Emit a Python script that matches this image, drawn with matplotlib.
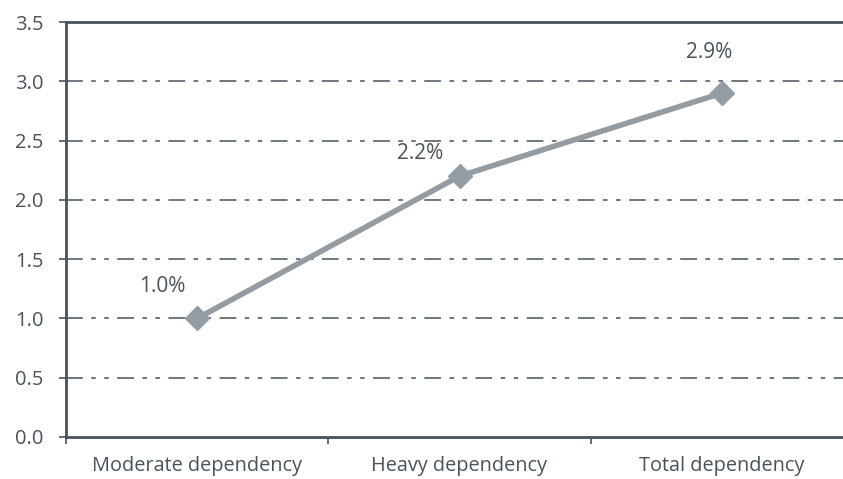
import matplotlib.pyplot as plt

plt.rcParams['font.family'] = ['Open Sans', 'DejaVu Sans']

categories = ["Moderate dependency", "Heavy dependency", "Total dependency"]
values = [1.0, 2.2, 2.9]
labels = ["1.0%", "2.2%", "2.9%"]
# label offsets from each marker, in points
label_offsets = [(-25, 23), (-28, 16), (-9, 29)]

dark = "#48535e"
line_col = "#939ca3"

fig = plt.figure(figsize=(8.43, 4.79), dpi=100)
ax = fig.add_axes([66 / 843, (479 - 437) / 479, (853 - 66) / 843, (437 - 22) / 479])

x = list(range(len(categories)))
ax.plot(x, values, color=line_col, lw=4, marker="D", markersize=12, zorder=3,
        clip_on=False)
for xi, v, lab, off in zip(x, values, labels, label_offsets):
    ax.annotate(lab, (xi, v), xytext=off, textcoords="offset points",
                fontsize=15, color=dark, va="center", ha="center")

ax.set_xlim(-0.5, 2.5)
ax.set_ylim(0, 3.5)
ax.set_yticks([0, 0.5, 1.0, 1.5, 2.0, 2.5, 3.0, 3.5])
ax.set_yticklabels([f"{t:.1f}" for t in ax.get_yticks()])
ax.set_xticks([-0.5, 0.5, 1.5])
ax.set_xticks(x, minor=True)
ax.set_xticklabels([])
ax.set_xticklabels(categories, minor=True)
ax.tick_params(axis="x", which="minor", length=0, pad=14, labelsize=14.3,
               labelcolor=dark)
ax.tick_params(axis="x", which="major", length=5, direction="out", color=dark,
               width=1.2)
ax.tick_params(axis="y", length=5, direction="out", color=dark, width=1.2,
               labelsize=14.5, labelcolor=dark, pad=11)

for t in [0.5, 1.0, 1.5, 2.0, 2.5, 3.0]:
    ax.axhline(t, color=dark, lw=1.1, dashes=(11, 5.5, 3, 5.5, 3, 5.5), zorder=1)

for side in ["left", "bottom", "top"]:
    ax.spines[side].set_color(dark)
    ax.spines[side].set_linewidth(2)
ax.spines["right"].set_visible(False)

fig.savefig("out.png", dpi=100)
